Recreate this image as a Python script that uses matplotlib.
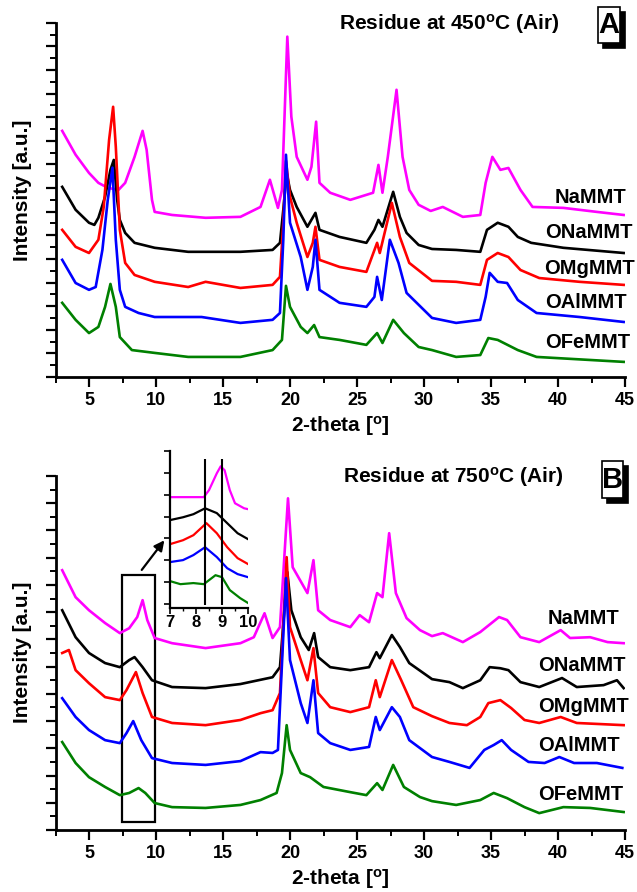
import matplotlib
matplotlib.use("Agg")
import matplotlib.pyplot as plt
from matplotlib.patches import Rectangle
from matplotlib.ticker import MultipleLocator

plt.rcParams['font.family'] = ['Liberation Sans', 'DejaVu Sans']
plt.rcParams['font.weight'] = 'bold'
plt.rcParams['axes.labelweight'] = 'bold'
plt.rcParams['mathtext.fontset'] = 'custom'
plt.rcParams['mathtext.rm'] = 'Liberation Sans:bold'
plt.rcParams['mathtext.default'] = 'rm'

# ---------------- data: residue at 450 C (panel A) ----------------
samples = ["NaMMT", "ONaMMT", "OMgMMT", "OAlMMT", "OFeMMT"]
colors = ["#FF00FF", "#000000", "#FF0000", "#0000FF", "#008000"]
x_ticks = [5, 10, 15, 20, 25, 30, 35, 40, 45]
inset_x_ticks = [7, 8, 9, 10]

x_na_450 = [3.0, 4.0, 5.0, 5.7, 6.4, 7.2, 7.7, 8.4, 9.0, 9.3, 9.7, 9.9, 11.2, 13.7, 16.3, 17.8, 18.5, 19.1, 19.4,
            19.8, 20.1, 20.5, 21.3, 21.6, 21.95, 22.2, 23.0, 24.5, 26.2, 26.6, 26.9, 27.3, 27.95, 28.4, 28.9, 29.6,
            30.5, 31.4, 32.9, 34.2, 34.6, 35.1, 35.7, 36.3, 37.2, 38.1, 40.4, 42.9, 44.9]
y_na_450 = [10.42, 9.41, 8.64, 8.22, 8.01, 7.92, 8.22, 9.32, 10.42, 9.62, 7.50, 6.99, 6.86, 6.74, 6.78, 7.20, 8.35,
            7.16, 7.92, 14.41, 11.02, 9.32, 8.35, 8.90, 10.81, 8.22, 7.80, 7.50, 7.80, 8.98, 7.80, 9.32, 12.16, 9.32,
            7.92, 7.29, 7.03, 7.20, 6.78, 6.86, 8.22, 9.32, 8.77, 8.85, 7.92, 7.20, 7.16, 6.99, 6.86]

x_ona_450 = [3.0, 4.0, 5.0, 5.4, 5.7, 6.2, 6.6, 6.85, 7.1, 7.3, 7.7, 8.4, 9.9, 12.4, 16.3, 18.7, 19.25, 19.5, 19.75,
             20.0, 20.5, 21.3, 21.9, 22.2, 23.7, 25.7, 26.3, 26.6, 26.9, 27.7, 28.2, 28.7, 29.6, 30.6, 32.4, 34.2,
             34.7, 35.5, 36.3, 37.0, 38.0, 40.4, 44.9]
y_ona_450 = [8.05, 7.08, 6.53, 6.44, 6.74, 7.63, 8.77, 9.19, 7.50, 6.65, 6.10, 5.68, 5.47, 5.30, 5.30, 5.38, 5.68,
             7.08, 8.64, 7.92, 7.20, 6.36, 6.95, 6.23, 5.93, 5.68, 6.23, 6.65, 6.36, 7.84, 6.78, 6.10, 5.59, 5.42,
             5.38, 5.30, 6.23, 6.53, 6.36, 5.93, 5.68, 5.47, 5.25]

x_omg_450 = [3.0, 4.0, 5.0, 5.7, 6.1, 6.5, 6.8, 7.0, 7.3, 7.7, 8.4, 9.9, 12.4, 13.7, 16.3, 18.7, 19.25, 19.5, 19.7,
             20.0, 20.5, 21.3, 21.7, 21.9, 22.2, 23.7, 25.7, 26.5, 26.7, 27.6, 28.2, 28.9, 30.6, 32.4, 34.2, 34.7,
             35.5, 36.3, 37.2, 38.6, 41.6, 44.9]
y_omg_450 = [6.23, 5.51, 5.25, 5.81, 7.20, 10.04, 11.44, 9.75, 6.23, 4.83, 4.32, 4.03, 3.81, 4.03, 3.77, 3.90, 4.24,
             6.53, 9.15, 7.63, 6.53, 5.08, 5.68, 6.36, 4.96, 4.66, 4.45, 5.68, 5.25, 7.37, 5.93, 4.83, 4.07, 4.03,
             3.90, 4.96, 5.25, 5.08, 4.53, 4.19, 4.03, 3.90]

x_oal_450 = [3.0, 4.0, 5.0, 5.5, 6.0, 6.4, 6.75, 7.0, 7.3, 7.7, 8.7, 9.9, 13.4, 16.3, 18.7, 19.25, 19.5, 19.7, 20.0,
             20.8, 21.3, 21.7, 21.9, 22.2, 23.7, 25.7, 26.3, 26.5, 26.85, 27.45, 28.1, 28.7, 30.6, 32.4, 34.2, 34.6,
             34.9, 35.5, 36.2, 37.0, 38.4, 41.6, 44.9]
y_oal_450 = [4.96, 3.98, 3.69, 3.81, 5.38, 7.50, 8.86, 5.81, 3.69, 2.97, 2.71, 2.54, 2.54, 2.29, 2.42, 2.71, 5.81,
             9.41, 6.53, 5.08, 3.69, 4.66, 5.81, 3.69, 3.14, 2.97, 3.39, 4.24, 3.26, 5.81, 4.83, 3.56, 2.50, 2.29,
             2.42, 3.39, 4.41, 4.03, 3.98, 3.26, 2.71, 2.54, 2.33]

x_ofe_450 = [3.0, 4.0, 5.0, 5.7, 6.2, 6.6, 7.0, 7.3, 8.2, 9.9, 12.4, 16.3, 18.7, 19.4, 19.7, 20.0, 20.8, 21.3, 21.8,
             22.2, 23.7, 25.7, 26.5, 26.9, 27.7, 28.5, 29.6, 30.6, 32.4, 34.2, 34.8, 35.5, 37.0, 38.4, 44.9]
y_ofe_450 = [3.14, 2.42, 1.86, 2.12, 2.97, 3.94, 2.97, 1.69, 1.14, 1.02, 0.85, 0.85, 1.14, 1.57, 3.86, 2.97, 2.12,
             1.86, 2.20, 1.69, 1.57, 1.36, 1.86, 1.44, 2.42, 1.86, 1.27, 1.14, 0.85, 0.93, 1.65, 1.57, 1.14, 0.85,
             0.64]

# ---------------- data: residue at 750 C (panel B) ----------------
x_na_750 = [3.0, 4.0, 5.0, 6.2, 7.3, 8.0, 8.6, 9.0, 9.35, 9.9, 11.2, 13.7, 16.3, 17.3, 18.1, 18.7, 19.25, 19.85,
            20.2, 21.3, 21.75, 22.1, 23.0, 24.5, 25.2, 25.9, 26.5, 26.9, 27.4, 27.9, 28.7, 29.7, 30.6, 31.4, 32.9,
            34.2, 35.6, 36.2, 37.2, 38.6, 40.2, 40.9, 42.4, 43.7, 44.9]
y_na_750 = [9.54, 8.55, 8.07, 7.60, 7.23, 7.41, 7.82, 8.44, 7.71, 7.05, 6.86, 6.68, 6.86, 7.08, 7.96, 7.05, 7.45,
            12.18, 9.65, 8.70, 9.91, 8.07, 7.71, 7.45, 7.89, 7.63, 8.70, 8.55, 10.90, 8.70, 7.78, 7.34, 7.12, 7.23,
            6.90, 7.27, 7.82, 7.71, 7.08, 6.90, 7.34, 7.05, 7.08, 6.90, 6.86]

x_ona_750 = [3.0, 4.0, 5.0, 6.2, 7.3, 8.0, 8.4, 9.0, 9.7, 11.2, 13.7, 16.3, 18.7, 19.25, 19.8, 20.1, 20.8, 21.4, 21.8,
             22.1, 23.0, 24.5, 25.9, 26.45, 26.7, 27.6, 28.2, 28.9, 30.6, 31.9, 32.9, 34.2, 34.9, 35.7, 36.3, 37.2,
             38.6, 40.3, 41.4, 43.4, 44.4, 44.9]
y_ona_750 = [8.07, 7.08, 6.50, 6.13, 5.98, 6.24, 6.35, 5.98, 5.50, 5.25, 5.21, 5.36, 5.61, 5.98, 9.47, 8.07, 7.08,
             6.61, 7.23, 6.35, 5.98, 5.87, 5.98, 6.53, 6.31, 7.16, 6.72, 6.13, 5.54, 5.43, 5.21, 5.50, 5.98, 5.94,
             5.87, 5.43, 5.25, 5.58, 5.25, 5.32, 5.50, 5.21]

x_omg_750 = [3.0, 3.5, 4.0, 5.0, 6.2, 7.3, 7.8, 8.5, 9.0, 9.7, 11.2, 13.7, 16.3, 17.8, 18.7, 19.25, 19.75, 20.0, 20.8,
             21.3, 21.75, 22.1, 23.0, 24.5, 25.9, 26.4, 26.7, 27.6, 28.3, 29.2, 30.6, 31.9, 33.2, 34.2, 34.8, 35.7,
             36.5, 37.5, 38.6, 40.2, 41.4, 44.9]
y_omg_750 = [6.50, 6.61, 5.87, 5.39, 4.88, 4.77, 5.14, 5.80, 5.03, 4.15, 3.93, 3.85, 4.04, 4.29, 4.40, 5.03, 10.02,
             7.45, 6.24, 5.50, 6.68, 5.03, 4.51, 4.33, 4.51, 5.50, 4.88, 6.24, 5.50, 4.51, 4.18, 3.93, 3.85, 4.15,
             4.66, 4.77, 4.48, 4.04, 3.93, 4.15, 3.93, 3.85]

x_oal_750 = [3.0, 4.0, 5.0, 6.2, 7.3, 7.8, 8.3, 8.9, 9.7, 11.2, 13.7, 16.3, 17.8, 18.7, 19.1, 19.7, 20.0, 20.8, 21.3,
             21.75, 22.1, 23.0, 24.5, 25.9, 26.4, 26.7, 27.6, 28.2, 28.9, 30.6, 31.9, 33.4, 34.5, 35.2, 35.8, 36.5,
             37.8, 39.0, 40.1, 41.2, 42.9, 44.8]
y_oal_750 = [4.84, 4.15, 3.67, 3.30, 3.19, 3.56, 4.00, 3.30, 2.64, 2.46, 2.39, 2.53, 2.86, 2.83, 2.94, 9.25, 6.24,
             4.66, 3.93, 5.50, 3.56, 3.19, 2.94, 3.05, 4.15, 3.67, 4.51, 4.15, 3.30, 2.68, 2.50, 2.28, 2.94, 3.12,
             3.30, 2.94, 2.50, 2.46, 2.68, 2.46, 2.46, 2.28]

x_ofe_750 = [3.0, 4.0, 5.0, 6.2, 7.3, 8.0, 8.7, 9.2, 9.9, 11.2, 13.7, 16.3, 17.8, 19.0, 19.4, 19.75, 20.0, 20.8, 21.5,
             22.5, 24.5, 25.7, 26.5, 26.9, 27.7, 28.5, 29.7, 30.6, 32.4, 34.2, 35.2, 36.2, 37.5, 38.6, 40.4, 42.4,
             44.9]
y_ofe_750 = [3.23, 2.46, 1.94, 1.58, 1.28, 1.36, 1.54, 1.36, 0.99, 0.84, 0.81, 0.92, 1.10, 1.36, 2.09, 3.85, 2.94,
             2.09, 1.94, 1.58, 1.39, 1.28, 1.72, 1.47, 2.39, 1.58, 1.21, 1.06, 0.92, 1.10, 1.36, 1.17, 0.84, 0.62,
             0.84, 0.81, 0.66]

# ---------------- inset data (7-10 degrees, 750 C) ----------------
inset_x_na = [7.0, 7.5, 8.3, 8.5, 8.8, 8.95, 9.1, 9.3, 9.5, 9.85, 10.0]
inset_y_na = [4.89, 4.89, 4.89, 5.21, 5.98, 6.30, 6.12, 5.21, 4.61, 4.38, 4.34]
inset_x_ona = [7.0, 7.5, 7.9, 8.35, 8.8, 9.2, 9.6, 10.0]
inset_y_ona = [3.84, 3.97, 4.11, 4.38, 4.16, 3.70, 3.24, 2.97]
inset_x_omg = [7.0, 7.5, 7.9, 8.4, 8.8, 9.2, 9.6, 10.0]
inset_y_omg = [2.74, 2.92, 3.15, 3.70, 3.24, 2.60, 2.10, 1.83]
inset_x_oal = [7.0, 7.5, 7.9, 8.35, 8.8, 9.2, 9.6, 10.0]
inset_y_oal = [1.92, 2.01, 2.24, 2.60, 2.15, 1.64, 1.37, 1.23]
inset_x_ofe = [7.0, 7.4, 7.9, 8.3, 8.75, 9.0, 9.3, 9.7, 10.0]
inset_y_ofe = [1.05, 0.91, 0.96, 0.91, 1.32, 1.23, 0.64, 0.27, 0.05]
inset_ref_lines = [8.35, 9.0]

# label positions (data coords) for sample names
label_x_450 = [39.78, 39.03, 38.95, 39.03, 39.03]
label_y_450 = [7.35, 5.88, 4.36, 2.91, 1.21]
label_x_750 = [39.25, 38.51, 38.51, 38.55, 38.51]
label_y_750 = [7.58, 5.85, 4.34, 2.91, 1.10]

panel_a = [(x_na_450, y_na_450), (x_ona_450, y_ona_450), (x_omg_450, y_omg_450),
           (x_oal_450, y_oal_450), (x_ofe_450, y_ofe_450)]
panel_b = [(x_na_750, y_na_750), (x_ona_750, y_ona_750), (x_omg_750, y_omg_750),
           (x_oal_750, y_oal_750), (x_ofe_750, y_ofe_750)]
inset = [(inset_x_na, inset_y_na), (inset_x_ona, inset_y_ona), (inset_x_omg, inset_y_omg),
         (inset_x_oal, inset_y_oal), (inset_x_ofe, inset_y_ofe)]

W, H = 637, 892
fig = plt.figure(figsize=(W / 100, H / 100), dpi=100)


def fr(px, py):
    return px / W, 1 - py / H


def style_axes(ax, ymax):
    ax.set_xlim(2.5, 45)
    ax.set_ylim(0, ymax)
    for s in ['top', 'right']:
        ax.spines[s].set_visible(False)
    for s in ['left', 'bottom']:
        ax.spines[s].set_linewidth(2.0)
    ax.set_xticks(x_ticks)
    ax.set_xticklabels([str(t) for t in x_ticks], fontweight='bold', fontsize=13)
    ax.xaxis.set_minor_locator(MultipleLocator(2.5))
    ax.yaxis.set_major_locator(MultipleLocator(1))
    ax.yaxis.set_minor_locator(MultipleLocator(0.5))
    ax.tick_params(which='major', direction='out', length=7, width=1.6)
    ax.tick_params(which='minor', direction='out', length=4, width=1.4)
    ax.tick_params(axis='y', which='both', labelleft=False)
    ax.set_xlim(2.5, 45)
    ax.set_xlabel(r'2-theta [$^{\mathrm{o}}$]', fontsize=15, labelpad=4)
    ax.set_ylabel('Intensity [a.u.]', fontsize=15)


def panel_box(letter, x0, y0, x1, y1, off=5):
    fx0, fy1 = fr(x0, y1)
    fx1, fy0 = fr(x1, y0)
    w = fx1 - fx0
    h = fy0 - fy1
    fig.patches.append(Rectangle((fx0 + off / W, fy1 - off / H), w, h, transform=fig.transFigure,
                                 facecolor='black', edgecolor='black', lw=1.2))
    fig.patches.append(Rectangle((fx0, fy1), w, h, transform=fig.transFigure,
                                 facecolor='white', edgecolor='black', lw=1.2))
    cx, cy = fr((x0 + x1) / 2, (y0 + y1) / 2)
    fig.text(cx, cy, letter, ha='center', va='center', fontsize=21)


# ---------- panel A ----------
axA = fig.add_axes([55.5 / W, 1 - 377 / H, 569.5 / W, 354.3 / H])
for (xs, ys), c in zip(panel_a, colors):
    axA.plot(xs, ys, color=c, lw=1.9)
style_axes(axA, 15)
axA.yaxis.set_label_coords(-0.042, 0.528)
for name, lx, ly in zip(samples, label_x_450, label_y_450):
    axA.text(lx, ly, name, fontsize=14.5, ha='left', va='baseline')
tx, ty = fr(449, 29.3)
fig.text(tx, ty, r'Residue at 450$^{\mathrm{o}}$C (Air)', fontsize=15, ha='center', va='baseline')
panel_box('A', 598, 7, 620, 43)

# ---------- panel B ----------
axB = fig.add_axes([55.5 / W, 1 - 830 / H, 569.5 / W, 354 / H])
for (xs, ys), c in zip(panel_b, colors):
    axB.plot(xs, ys, color=c, lw=1.9)
style_axes(axB, 13)
axB.yaxis.set_label_coords(-0.042, 0.503)
for name, lx, ly in zip(samples, label_x_750, label_y_750):
    axB.text(lx, ly, name, fontsize=14.5, ha='left', va='baseline')
tx, ty = fr(453.5, 483)
fig.text(tx, ty, r'Residue at 750$^{\mathrm{o}}$C (Air)', fontsize=15, ha='center', va='baseline')
panel_box('B', 602, 461, 623, 498)

# zoom rectangle and arrow
zoom_x = (7.45, 9.9)
zoom_y = (0.30, 9.36)
axB.add_patch(Rectangle((zoom_x[0], zoom_y[0]), zoom_x[1] - zoom_x[0], zoom_y[1] - zoom_y[0],
                        fill=False, edgecolor='black', lw=1.6))
arrow_start = (8.81, 9.47)
arrow_end = (10.75, 10.72)
axB.annotate('', xy=arrow_end, xytext=arrow_start,
             arrowprops=dict(arrowstyle='-|>,head_length=0.6,head_width=0.3', color='black', lw=1.6))

# ---------- inset ----------
axI = fig.add_axes([170 / W, 1 - 608 / H, 78 / W, 157 / H])
for (xs, ys), c in zip(inset, colors):
    axI.plot(xs, ys, color=c, lw=1.6)
axI.vlines(inset_ref_lines, -0.05, 6.62, color='black', lw=1.5)
for s in ['top', 'right']:
    axI.spines[s].set_visible(False)
for s in ['left', 'bottom']:
    axI.spines[s].set_linewidth(1.6)
axI.set_xticks(inset_x_ticks)
axI.set_xticklabels([str(t) for t in inset_x_ticks], fontweight='bold', fontsize=12)
axI.xaxis.set_minor_locator(MultipleLocator(0.5))
axI.yaxis.set_major_locator(MultipleLocator(1))
axI.tick_params(which='major', direction='out', length=4, width=1.2, pad=1)
axI.tick_params(which='minor', direction='out', length=2.5, width=1.0)
axI.tick_params(axis='y', labelleft=False)
axI.set_xlim(7, 10)
axI.set_ylim(-0.18, 7.0)
axI.patch.set_alpha(0)

fig.savefig('out.png', dpi=100)
